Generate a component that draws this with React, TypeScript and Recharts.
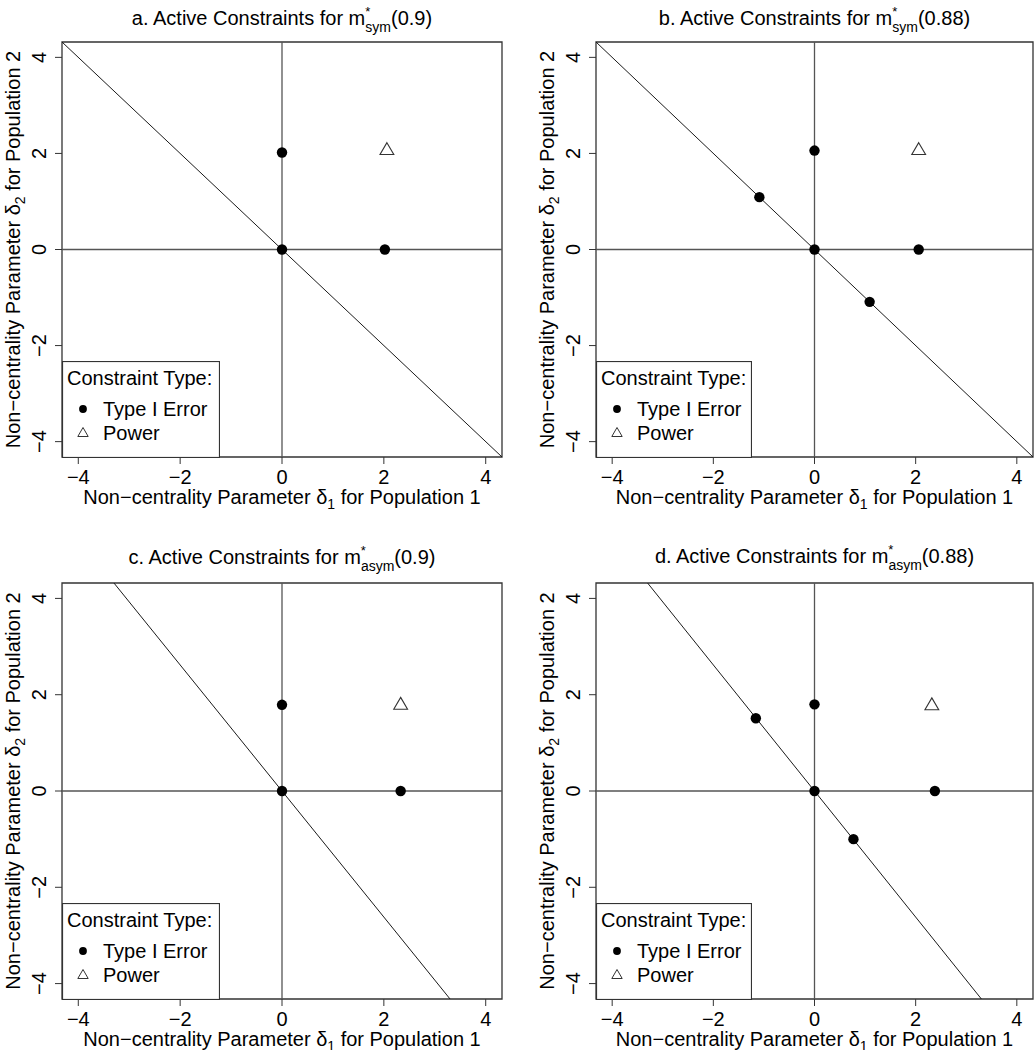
import React from "react";
import { ScatterChart, Scatter, XAxis, YAxis, ReferenceLine, ReferenceArea, Legend, Label } from "recharts";

const FONT = "'Liberation Sans', Arial, Helvetica, sans-serif";

// axis setup shared by all four panels
const axisTicks = [-4, -2, 0, 2, 4];
const axisMin = -4.32;
const axisMax = 4.32;

const panelLetters = ["a", "b", "c", "d"];
const panelDesign = ["sym", "sym", "asym", "asym"];
const panelLevel = ["0.9", "0.88", "0.9", "0.88"];

// a. symmetric, 0.9
const typeIErrorA = [{ x: 0, y: 0 }, { x: 0, y: 2.02 }, { x: 2.02, y: 0 }];
const powerA = [{ x: 2.06, y: 2.06 }];
const boundaryA = [{ x: -4.32, y: 4.32 }, { x: 4.32, y: -4.32 }];

// b. symmetric, 0.88
const typeIErrorB = [
  { x: 0, y: 0 }, { x: 0, y: 2.06 }, { x: 2.06, y: 0 },
  { x: -1.09, y: 1.09 }, { x: 1.09, y: -1.09 },
];
const powerB = [{ x: 2.06, y: 2.06 }];
const boundaryB = [{ x: -4.32, y: 4.32 }, { x: 4.32, y: -4.32 }];

// c. asymmetric, 0.9
const typeIErrorC = [{ x: 0, y: 0 }, { x: 0, y: 1.79 }, { x: 2.33, y: 0 }];
const powerC = [{ x: 2.33, y: 1.78 }];
const boundaryC = [{ x: -3.3, y: 4.32 }, { x: 3.3, y: -4.32 }];

// d. asymmetric, 0.88
const typeIErrorD = [
  { x: 0, y: 0 }, { x: 0, y: 1.8 }, { x: 2.38, y: 0 },
  { x: -1.16, y: 1.51 }, { x: 0.77, y: -1.0 },
];
const powerD = [{ x: 2.32, y: 1.77 }];
const boundaryD = [{ x: -3.3, y: 4.32 }, { x: 3.3, y: -4.32 }];

const typeIErrorAll = [typeIErrorA, typeIErrorB, typeIErrorC, typeIErrorD];
const powerAll = [powerA, powerB, powerC, powerD];
const boundaryAll = [boundaryA, boundaryB, boundaryC, boundaryD];

// layout (pixels)
const panelLeft = [0, 517, 0, 517];
const panelTop = [0, 0, 525, 525];
const panelWidth = [517, 518, 517, 518];
const panelHeight = 525;
const yAxisWidth = [62, 79, 62, 79];
const marginTop = [42, 42, 58, 58];
const marginRight = [15, 2, 15, 2];
const xAxisHeight = [68, 68, 51, 51];
const legendWidth = [158, 156, 158, 156];
const titleBaseline = [25, 25, 39, 38];

const fmt = (v: number) => (v < 0 ? "\u2212" + Math.abs(v) : String(v));

const YTick = (props: any) => {
  const { x, y, payload } = props;
  return (
    <text x={x} y={y} transform={`rotate(-90 ${x} ${y})`} textAnchor="middle"
      fontSize={20} fill="#000" fontFamily={FONT}>
      {fmt(payload.value)}
    </text>
  );
};

const DotShape = (props: any) => <circle cx={props.cx} cy={props.cy} r={5.2} fill="#000" />;

const TriangleShape = (props: any) => {
  const { cx, cy } = props;
  const pts = `${cx},${cy - 7.9} ${cx + 6.9},${cy + 4} ${cx - 6.9},${cy + 4}`;
  return <polygon points={pts} fill="none" stroke="#333" strokeWidth={1.1} />;
};

const XTitle = (props: any) => {
  const vb = props.viewBox;
  return (
    <text x={vb.x + vb.width / 2} y={vb.y + 47} textAnchor="middle" fontSize={20} fill="#000" fontFamily={FONT}>
      Non−centrality Parameter δ<tspan dy={5} fontSize={14}>1</tspan>
      <tspan dy={-5}> for Population 1</tspan>
    </text>
  );
};

const YTitle = (props: any) => {
  const vb = props.viewBox;
  const x = vb.x + vb.width - 42;
  const y = vb.y + vb.height / 2;
  return (
    <text x={x} y={y} transform={`rotate(-90 ${x} ${y})`} textAnchor="middle" fontSize={20} fill="#000" fontFamily={FONT}>
      Non−centrality Parameter δ<tspan dy={5} fontSize={14}>2</tspan>
      <tspan dy={-5}>{"  for Population 2"}</tspan>
    </text>
  );
};

const LegendBox = ({ width }: { width: number }) => (
  <svg width={width} height={97} style={{ display: "block" }}>
    <rect x={0.5} y={0.5} width={width - 1} height={96} fill="#fff" stroke="#333" strokeWidth={1.2} />
    <text x={5} y={24} fontSize={20} fontFamily={FONT} fill="#000">Constraint Type:</text>
    <circle cx={21} cy={48} r={3.9} fill="#000" />
    <text x={41} y={55} fontSize={20} fontFamily={FONT} fill="#000">Type I Error</text>
    <polygon points="21,66.5 26.2,75.5 15.8,75.5" fill="none" stroke="#333" strokeWidth={1} />
    <text x={41} y={79} fontSize={20} fontFamily={FONT} fill="#000">Power</text>
  </svg>
);

function Panel({ i }: { i: number }) {
  const w = panelWidth[i];
  const plotLeft = yAxisWidth[i];
  const plotW = w - plotLeft - marginRight[i];
  const plotH = panelHeight - marginTop[i] - xAxisHeight[i];
  return (
    <div style={{ position: "absolute", left: panelLeft[i], top: panelTop[i], width: w, height: panelHeight }}>
      <ScatterChart width={w} height={panelHeight}
        margin={{ top: marginTop[i], right: marginRight[i], bottom: 0, left: 0 }}>
        <XAxis dataKey="x" type="number" domain={[axisMin, axisMax]} ticks={axisTicks} interval={0}
          allowDataOverflow height={xAxisHeight[i]} axisLine={false} tickSize={7} tickMargin={6}
          tickLine={{ stroke: "#333" }} tick={{ fill: "#000", fontSize: 20 }} tickFormatter={fmt}>
          <Label content={XTitle} />
        </XAxis>
        <YAxis dataKey="y" type="number" domain={[axisMin, axisMax]} ticks={axisTicks} interval={0}
          allowDataOverflow width={yAxisWidth[i]} axisLine={false} tickSize={7} tickMargin={9}
          tickLine={{ stroke: "#333" }} tick={YTick}>
          <Label content={YTitle} />
        </YAxis>
        <ReferenceLine x={0} stroke="#555" strokeWidth={1.3} />
        <ReferenceLine y={0} stroke="#555" strokeWidth={1.3} />
        <ReferenceLine segment={boundaryAll[i]} stroke="#1a1a1a" strokeWidth={1} ifOverflow="visible" />
        <ReferenceArea x1={axisMin} x2={axisMax} y1={axisMin} y2={axisMax} fill="none"
          stroke="#333" strokeWidth={1.3} ifOverflow="visible" />
        <Scatter data={typeIErrorAll[i]} shape={DotShape} isAnimationActive={false} />
        <Scatter data={powerAll[i]} shape={TriangleShape} isAnimationActive={false} />
        <Legend layout="vertical" align="center" verticalAlign="middle"
          content={() => <LegendBox width={legendWidth[i]} />}
          wrapperStyle={{ left: plotLeft, top: marginTop[i] + plotH - 96, width: legendWidth[i], height: 97 }} />
      </ScatterChart>
      <svg width={w} height={50} style={{ position: "absolute", left: 0, top: 0, pointerEvents: "none" }}>
        <text x={plotLeft + plotW / 2} y={titleBaseline[i]} textAnchor="middle" fontSize={20} fill="#000" fontFamily={FONT}>
          {panelLetters[i]}. Active Constraints for m
          <tspan dy={-9} fontSize={13}>*</tspan>
          <tspan dx={-5} dy={16} fontSize={14}>{panelDesign[i]}</tspan>
          <tspan dy={-7}>({panelLevel[i]})</tspan>
        </text>
      </svg>
    </div>
  );
}

export default function App() {
  return (
    <div style={{ position: "absolute", left: 0, top: 0, width: 1035, height: 1050, background: "#fff", fontFamily: FONT }}>
      {[0, 1, 2, 3].map((i) => <Panel key={i} i={i} />)}
    </div>
  );
}
